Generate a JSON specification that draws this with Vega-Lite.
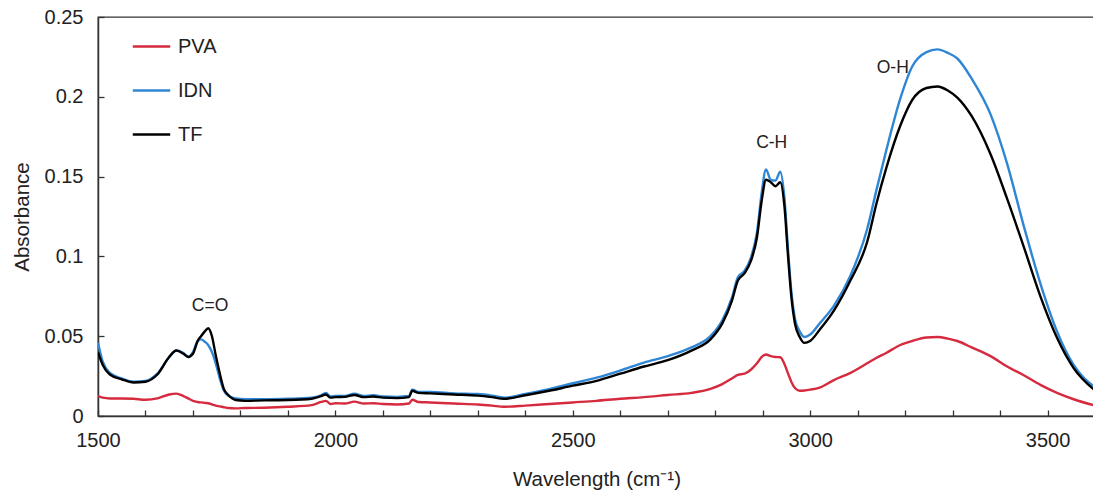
{
  "$schema": "https://vega.github.io/schema/vega-lite/v6.json",
  "width": 997,
  "height": 399,
  "autosize": "none",
  "padding": {"left": 98, "top": 17, "right": 0, "bottom": 79},
  "background": "white",
  "config": {
    "font": "Liberation Sans",
    "view": {"stroke": "#333", "strokeWidth": 1.3},
    "axis": {
      "grid": false,
      "domainColor": "#333",
      "domainWidth": 1.5,
      "tickColor": "#333",
      "tickWidth": 1.3,
      "labelFont": "Liberation Sans",
      "labelFontSize": 20,
      "labelColor": "#222",
      "titleFont": "Liberation Sans",
      "titleFontSize": 20.5,
      "titleFontWeight": "normal",
      "titleColor": "#222"
    },
    "legend": {
      "labelFont": "Liberation Sans",
      "labelFontSize": 20,
      "labelColor": "#222"
    }
  },
  "layer": [
    {
      "data": {
        "values": [
          {"w": 1500, "PVA": 0.0125, "IDN": 0.046, "TF": 0.040},
          {"w": 1510, "PVA": 0.0115, "IDN": 0.034, "TF": 0.032},
          {"w": 1525, "PVA": 0.011, "IDN": 0.027, "TF": 0.026},
          {"w": 1550, "PVA": 0.011, "IDN": 0.0235, "TF": 0.023},
          {"w": 1575, "PVA": 0.0108, "IDN": 0.0215, "TF": 0.021},
          {"w": 1600, "PVA": 0.0102, "IDN": 0.022, "TF": 0.0215},
          {"w": 1625, "PVA": 0.011, "IDN": 0.0265, "TF": 0.026},
          {"w": 1650, "PVA": 0.0135, "IDN": 0.037, "TF": 0.037},
          {"w": 1665, "PVA": 0.014, "IDN": 0.041, "TF": 0.041},
          {"w": 1680, "PVA": 0.0125, "IDN": 0.0395, "TF": 0.039},
          {"w": 1690, "PVA": 0.011, "IDN": 0.037, "TF": 0.037},
          {"w": 1700, "PVA": 0.0095, "IDN": 0.040, "TF": 0.039},
          {"w": 1710, "PVA": 0.0088, "IDN": 0.047, "TF": 0.047},
          {"w": 1717, "PVA": 0.0085, "IDN": 0.048, "TF": 0.050},
          {"w": 1725, "PVA": 0.0082, "IDN": 0.0465, "TF": 0.053},
          {"w": 1732, "PVA": 0.008, "IDN": 0.0445, "TF": 0.055},
          {"w": 1740, "PVA": 0.0072, "IDN": 0.040, "TF": 0.050},
          {"w": 1748, "PVA": 0.0065, "IDN": 0.033, "TF": 0.038},
          {"w": 1757, "PVA": 0.006, "IDN": 0.023, "TF": 0.026},
          {"w": 1765, "PVA": 0.0055, "IDN": 0.016, "TF": 0.017},
          {"w": 1775, "PVA": 0.005, "IDN": 0.0125, "TF": 0.013},
          {"w": 1790, "PVA": 0.0048, "IDN": 0.011, "TF": 0.010},
          {"w": 1810, "PVA": 0.005, "IDN": 0.0105, "TF": 0.0095},
          {"w": 1850, "PVA": 0.0052, "IDN": 0.0105, "TF": 0.0098},
          {"w": 1900, "PVA": 0.0058, "IDN": 0.0108, "TF": 0.010},
          {"w": 1950, "PVA": 0.0068, "IDN": 0.0115, "TF": 0.0108},
          {"w": 1970, "PVA": 0.0088, "IDN": 0.013, "TF": 0.0125},
          {"w": 1980, "PVA": 0.0095, "IDN": 0.0145, "TF": 0.0135},
          {"w": 1990, "PVA": 0.0075, "IDN": 0.0122, "TF": 0.0115},
          {"w": 2000, "PVA": 0.008, "IDN": 0.0125, "TF": 0.0118},
          {"w": 2020, "PVA": 0.0078, "IDN": 0.0125, "TF": 0.012},
          {"w": 2040, "PVA": 0.009, "IDN": 0.014, "TF": 0.0132},
          {"w": 2060, "PVA": 0.0078, "IDN": 0.0125, "TF": 0.0118},
          {"w": 2080, "PVA": 0.008, "IDN": 0.013, "TF": 0.0122},
          {"w": 2100, "PVA": 0.0075, "IDN": 0.0122, "TF": 0.0115},
          {"w": 2130, "PVA": 0.0072, "IDN": 0.012, "TF": 0.0112},
          {"w": 2155, "PVA": 0.0078, "IDN": 0.0125, "TF": 0.0118},
          {"w": 2162, "PVA": 0.0102, "IDN": 0.0165, "TF": 0.0158},
          {"w": 2175, "PVA": 0.0088, "IDN": 0.015, "TF": 0.0145},
          {"w": 2200, "PVA": 0.0085, "IDN": 0.015, "TF": 0.0142},
          {"w": 2250, "PVA": 0.0078, "IDN": 0.0142, "TF": 0.0135},
          {"w": 2300, "PVA": 0.0072, "IDN": 0.0138, "TF": 0.0128},
          {"w": 2330, "PVA": 0.0065, "IDN": 0.0128, "TF": 0.0118},
          {"w": 2355, "PVA": 0.0058, "IDN": 0.0115, "TF": 0.0108},
          {"w": 2400, "PVA": 0.0065, "IDN": 0.0138, "TF": 0.013},
          {"w": 2450, "PVA": 0.0075, "IDN": 0.0168, "TF": 0.0158},
          {"w": 2500, "PVA": 0.0085, "IDN": 0.0205, "TF": 0.019},
          {"w": 2550, "PVA": 0.0095, "IDN": 0.024, "TF": 0.022},
          {"w": 2600, "PVA": 0.0108, "IDN": 0.0285, "TF": 0.0265},
          {"w": 2650, "PVA": 0.0118, "IDN": 0.0335, "TF": 0.031},
          {"w": 2700, "PVA": 0.0132, "IDN": 0.0375, "TF": 0.035},
          {"w": 2750, "PVA": 0.0145, "IDN": 0.043, "TF": 0.041},
          {"w": 2790, "PVA": 0.017, "IDN": 0.050, "TF": 0.048},
          {"w": 2815, "PVA": 0.020, "IDN": 0.060, "TF": 0.058},
          {"w": 2835, "PVA": 0.0235, "IDN": 0.074, "TF": 0.072},
          {"w": 2848, "PVA": 0.0258, "IDN": 0.087, "TF": 0.085},
          {"w": 2862, "PVA": 0.0265, "IDN": 0.091, "TF": 0.0895},
          {"w": 2875, "PVA": 0.029, "IDN": 0.099, "TF": 0.097},
          {"w": 2888, "PVA": 0.033, "IDN": 0.115, "TF": 0.112},
          {"w": 2898, "PVA": 0.037, "IDN": 0.140, "TF": 0.135},
          {"w": 2907, "PVA": 0.0385, "IDN": 0.1545, "TF": 0.148},
          {"w": 2917, "PVA": 0.0375, "IDN": 0.148, "TF": 0.1465},
          {"w": 2927, "PVA": 0.037, "IDN": 0.1475, "TF": 0.144},
          {"w": 2937, "PVA": 0.0368, "IDN": 0.153, "TF": 0.1465},
          {"w": 2946, "PVA": 0.0325, "IDN": 0.136, "TF": 0.131},
          {"w": 2953, "PVA": 0.027, "IDN": 0.106, "TF": 0.102},
          {"w": 2961, "PVA": 0.021, "IDN": 0.076, "TF": 0.073},
          {"w": 2968, "PVA": 0.0175, "IDN": 0.061, "TF": 0.058},
          {"w": 2978, "PVA": 0.0158, "IDN": 0.053, "TF": 0.0495},
          {"w": 2988, "PVA": 0.016, "IDN": 0.0495, "TF": 0.0458},
          {"w": 3000, "PVA": 0.0165, "IDN": 0.051, "TF": 0.047},
          {"w": 3020, "PVA": 0.0178, "IDN": 0.058, "TF": 0.054},
          {"w": 3050, "PVA": 0.0225, "IDN": 0.069, "TF": 0.066},
          {"w": 3085, "PVA": 0.027, "IDN": 0.088, "TF": 0.085},
          {"w": 3120, "PVA": 0.033, "IDN": 0.117, "TF": 0.109},
          {"w": 3140, "PVA": 0.0365, "IDN": 0.142, "TF": 0.1335},
          {"w": 3160, "PVA": 0.0395, "IDN": 0.166, "TF": 0.155},
          {"w": 3190, "PVA": 0.0445, "IDN": 0.199, "TF": 0.182},
          {"w": 3215, "PVA": 0.047, "IDN": 0.219, "TF": 0.198},
          {"w": 3245, "PVA": 0.0492, "IDN": 0.228, "TF": 0.2055},
          {"w": 3268, "PVA": 0.0495, "IDN": 0.2297, "TF": 0.2065},
          {"w": 3290, "PVA": 0.0485, "IDN": 0.2275, "TF": 0.204},
          {"w": 3310, "PVA": 0.047, "IDN": 0.224, "TF": 0.1995},
          {"w": 3340, "PVA": 0.043, "IDN": 0.2115, "TF": 0.188},
          {"w": 3380, "PVA": 0.0375, "IDN": 0.189, "TF": 0.164},
          {"w": 3415, "PVA": 0.031, "IDN": 0.158, "TF": 0.136},
          {"w": 3450, "PVA": 0.0255, "IDN": 0.119, "TF": 0.106},
          {"w": 3485, "PVA": 0.0195, "IDN": 0.083, "TF": 0.075},
          {"w": 3520, "PVA": 0.0145, "IDN": 0.053, "TF": 0.049},
          {"w": 3555, "PVA": 0.0105, "IDN": 0.032, "TF": 0.030},
          {"w": 3600, "PVA": 0.0065, "IDN": 0.018, "TF": 0.016}
        ]
      },
      "transform": [{"fold": ["PVA", "IDN", "TF"], "as": ["series", "a"]}],
      "mark": {"type": "line", "strokeWidth": 2.4, "clip": true, "interpolate": "monotone"},
      "encoding": {
        "x": {
          "field": "w",
          "type": "quantitative",
          "scale": {"domain": [1500, 3600], "nice": false, "zero": false},
          "axis": {
            "title": "Wavelength (cm⁻¹)",
            "values": [1500, 1600, 1700, 1800, 1900, 2000, 2100, 2200, 2300, 2400, 2500, 2600, 2700, 2800, 2900, 3000, 3100, 3200, 3300, 3400, 3500, 3600],
            "labelExpr": "datum.value % 500 === 0 ? '' + datum.value : ''",
            "tickSize": -6,
            "labelPadding": 20,
            "titlePadding": 19,
            "labelFlush": false
          }
        },
        "y": {
          "field": "a",
          "type": "quantitative",
          "scale": {"domain": [0, 0.25], "nice": false},
          "axis": {
            "title": "Absorbance",
            "values": [0, 0.05, 0.1, 0.15, 0.2, 0.25],
            "labelExpr": "format(datum.value, '.2~f')",
            "tickSize": -6,
            "labelPadding": 21,
            "titlePadding": 12
          }
        },
        "color": {
          "field": "series",
          "type": "nominal",
          "scale": {"domain": ["PVA", "IDN", "TF"], "range": ["#d62a3e", "#2f86d4", "#000000"]},
          "legend": {
            "title": null,
            "orient": "none",
            "legendX": 33,
            "legendY": 9,
            "padding": 0,
            "symbolType": "stroke",
            "symbolSize": 1400,
            "symbolStrokeWidth": 2.6,
            "rowPadding": 13,
            "labelOffset": 6
          }
        }
      }
    },
    {
      "data": {
        "values": [
          {"w": 1736, "a": 0.0689, "label": "C=O"},
          {"w": 2919, "a": 0.171, "label": "C-H"},
          {"w": 3174, "a": 0.218, "label": "O-H"}
        ]
      },
      "mark": {"type": "text", "font": "Liberation Sans", "fontSize": 17.5, "color": "#222", "baseline": "middle", "align": "center"},
      "encoding": {
        "x": {"field": "w", "type": "quantitative"},
        "y": {"field": "a", "type": "quantitative"},
        "text": {"field": "label"}
      }
    }
  ]
}
